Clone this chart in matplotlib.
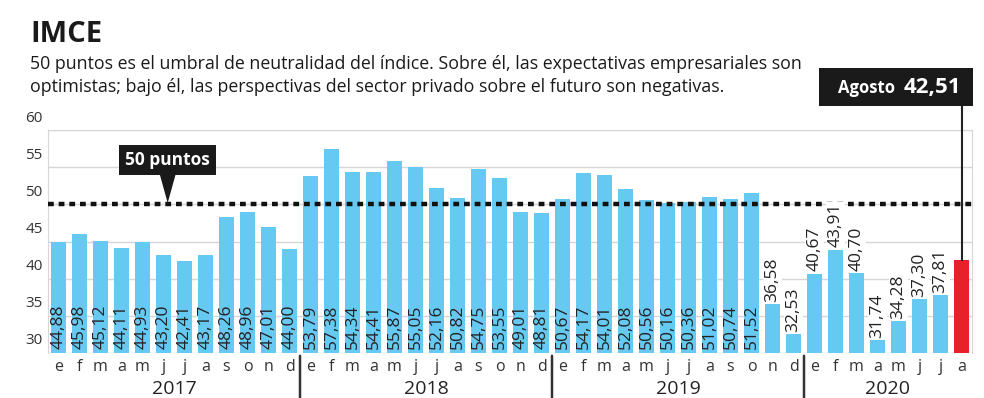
import matplotlib
matplotlib.use("Agg")
import matplotlib.pyplot as plt
import numpy as np

# data
years = ["2017", "2018", "2019", "2020"]
months = ["e", "f", "m", "a", "m", "j", "j", "a", "s", "o", "n", "d"]
v2017 = [44.88, 45.98, 45.12, 44.11, 44.93, 43.20, 42.41, 43.17, 48.26, 48.96, 47.01, 44.00]
v2018 = [53.79, 57.38, 54.34, 54.41, 55.87, 55.05, 52.16, 50.82, 54.75, 53.55, 49.01, 48.81]
v2019 = [50.67, 54.17, 54.01, 52.08, 50.56, 50.16, 50.36, 51.02, 50.74, 51.52, 36.58, 32.53]
v2020 = [40.67, 43.91, 40.70, 31.74, 34.28, 37.30, 37.81, 42.51]
threshold = 50
yticks = [30, 35, 40, 45, 50, 55, 60]

values = v2017 + v2018 + v2019 + v2020
n = len(values)
x = np.arange(n)
labels = [months[i % 12] for i in range(n)]
inside_count = 34  # labels sit inside the bars up to oct 2019

plt.rcParams['font.family'] = ['Open Sans', 'DejaVu Sans']
W, H = 984, 398
fig = plt.figure(figsize=(W / 100, H / 100), dpi=100)

# axes placed in pixel coords
L, R, T, B = 48, 972, 130, 353
ax = fig.add_axes([L / W, 1 - B / H, (R - L) / W, (B - T) / H])
ax.set_xlim(-0.5, n - 0.5)
ax.set_ylim(30, 60)

blue = "#66c9f2"
red = "#e8202a"
colors = [blue] * (n - 1) + [red]
ax.bar(x, values, width=0.68, color=colors, zorder=2)

# grid
for t in yticks:
    ax.axhline(t, color="#d6d6d6", lw=1, zorder=1)
for s in ax.spines.values():
    s.set_color("#d6d6d6")
ax.spines["bottom"].set_visible(False)
ax.set_xticks([])
ax.set_yticks([])

# y labels sit above the gridlines
for t in yticks:
    ax.annotate(str(t), xy=(0, t), xycoords=("axes fraction", "data"),
                xytext=(-14, 12), textcoords="offset pixels",
                ha="center", va="center", fontsize=11, color="#333333")

# threshold dotted line
ax.axhline(threshold, color="#111111", lw=3.2, ls=(0, (1.3, 1.1)), zorder=3)

# value labels
for i, v in enumerate(values[:-1]):
    lab = f"{v:.2f}".replace(".", ",")
    if i < inside_count:
        ax.text(i, 30.6, lab, rotation=90, ha="center", va="bottom",
                fontsize=12.5, color="#222222", zorder=4)
    else:
        ax.text(i, v + 0.3, lab, rotation=90, ha="center", va="bottom",
                fontsize=12.5, color="#222222", zorder=4,
                bbox=dict(facecolor="white", edgecolor="none", pad=1))

# month and year labels
for i, m in enumerate(labels):
    ax.annotate(m, xy=(i, 0), xycoords=("data", "axes fraction"),
                xytext=(0, -14), textcoords="offset pixels",
                ha="center", va="center", fontsize=11.5, color="#333333")
start = 0
for k, y in enumerate(years):
    cnt = 12 if k < 3 else len(v2020)
    ax.annotate(y, xy=(start + (cnt - 1) / 2, 0), xycoords=("data", "axes fraction"),
                xytext=(0, -36), textcoords="offset pixels",
                ha="center", va="center", fontsize=14, color="#222222",
                annotation_clip=False)
    if k > 0:
        ax.annotate("", xy=(start - 0.5, 0), xycoords=("data", "axes fraction"),
                    xytext=(start - 0.5, -50), textcoords=("data", "offset pixels"),
                    arrowprops=dict(arrowstyle="-", color="#333333", lw=1.8))
    start += cnt

# "50 puntos" callout
ax.annotate("50 puntos", xy=(5.2, threshold), xycoords="data",
            xytext=(5.2, 56.0), textcoords="data",
            ha="center", va="center", fontsize=12.5, fontweight="bold", color="white",
            bbox=dict(boxstyle="square,pad=0.35", facecolor="#1a1a1a", edgecolor="none"),
            arrowprops=dict(arrowstyle="wedge,tail_width=0.9,shrink_factor=0.5",
                            facecolor="#1a1a1a", edgecolor="none", shrinkA=0, shrinkB=1),
            zorder=5)

# Agosto callout
ax.plot([n - 1, n - 1], [values[-1], 65.5], color="#222222", lw=1.5,
        clip_on=False, zorder=5)
fig.patches.append(plt.Rectangle((819 / W, 1 - 106 / H), 154 / W, 38 / H,
                                 transform=fig.transFigure, facecolor="#1a1a1a",
                                 edgecolor="none"))
fig.text(866 / W, 1 - 88 / H, "Agosto", ha="center", va="center", fontsize=12,
         fontweight="bold", color="white")
fig.text(932 / W, 1 - 87 / H, f"{values[-1]:.2f}".replace(".", ","), ha="center",
         va="center", fontsize=16, fontweight="bold", color="white")

# title
fig.text(30 / W, 1 - 35 / H, "IMCE", ha="left", va="center", fontsize=21,
         fontweight="bold", color="#1a1a1a")
fig.text(30 / W, 1 - 64 / H,
         "50 puntos es el umbral de neutralidad del índice. Sobre él, las expectativas empresariales son",
         ha="left", va="center", fontsize=12.8, color="#1a1a1a")
fig.text(30 / W, 1 - 87 / H,
         "optimistas; bajo él, las perspectivas del sector privado sobre el futuro son negativas.",
         ha="left", va="center", fontsize=12.8, color="#1a1a1a")

fig.savefig("out.png", dpi=100)
